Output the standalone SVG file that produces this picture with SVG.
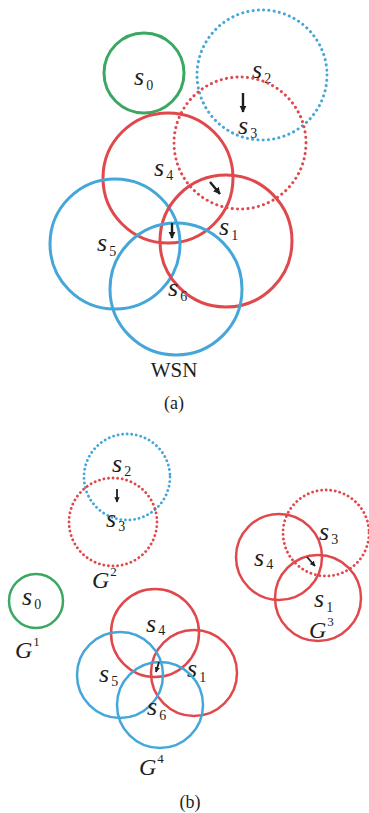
<svg xmlns="http://www.w3.org/2000/svg" width="369" height="813" viewBox="0 0 369 813">
<defs>
<style>
.r{fill:none;stroke:#e0484c}
.b{fill:none;stroke:#45a6d9}
.g{fill:none;stroke:#3aa862}
.a{stroke-width:3}
.bb{stroke-width:2.5}
.d{stroke-dasharray:0.1 5.2;stroke-linecap:round;stroke-width:3}
.db{stroke-dasharray:0.1 4.5;stroke-linecap:round;stroke-width:2.8}
text{font-family:"Liberation Serif","Times New Roman",serif;fill:#1e1e1e}
.s{font-style:italic;font-size:26px}
.sub{font-style:normal;font-size:14px}
.lab{font-size:21px}
.cap{font-size:18px}
.G{font-style:italic;font-size:24px}
.sup{font-style:normal;font-size:13px}
.arr{stroke:#1e1e1e;stroke-width:2.4;fill:none}
.arrs{stroke:#1e1e1e;stroke-width:1.8;fill:none}
</style>
<marker id="ah" viewBox="0 0 10 10" refX="9" refY="5" markerWidth="3" markerHeight="3" orient="auto" markerUnits="strokeWidth">
<path d="M0,0 L10,5 L0,10 Z" fill="#1e1e1e"/>
</marker>
</defs>
<rect width="369" height="813" fill="#ffffff"/>

<!-- (a) WSN -->
<g id="a_s0"><circle class="g a" cx="144" cy="73" r="40"/><text x="134" y="85" class="s">s<tspan class="sub" dx="2" dy="5">0</tspan></text></g>
<g id="a_s2"><circle class="b d" cx="262" cy="75" r="65"/><text x="252" y="78" class="s">s<tspan class="sub" dx="2" dy="5">2</tspan></text></g>
<g id="a_s3"><circle class="r d" cx="240" cy="143" r="66"/><text x="238" y="134" class="s">s<tspan class="sub" dx="2" dy="4">3</tspan></text></g>
<g id="a_s4"><circle class="r a" cx="168" cy="178" r="65"/><text x="154" y="176" class="s">s<tspan class="sub" dx="2" dy="4">4</tspan></text></g>
<g id="a_s5"><circle class="b a" cx="115" cy="244" r="65"/><text x="97" y="251" class="s">s<tspan class="sub" dx="2" dy="5">5</tspan></text></g>
<g id="a_s1"><circle class="r a" cx="226" cy="241" r="66"/><text x="219" y="235" class="s">s<tspan class="sub" dx="2" dy="5">1</tspan></text></g>
<g id="a_s6"><circle class="b a" cx="176" cy="289" r="66"/><text x="168" y="296" class="s">s<tspan class="sub" dx="2" dy="5">6</tspan></text></g>
<text x="174" y="377" class="lab" text-anchor="middle">WSN</text>
<text x="174" y="409" class="cap" text-anchor="middle">(a)</text>

<!-- (b) groups -->
<g id="b_s2"><circle class="b db" cx="127" cy="477" r="43"/><text x="112" y="472" class="s">s<tspan class="sub" dx="2" dy="4">2</tspan></text></g>
<g id="b_s3_G2"><circle class="r db" cx="113" cy="522" r="44"/><text x="106" y="527" class="s">s<tspan class="sub" dx="2" dy="4">3</tspan></text></g>
<text x="92" y="588" class="G">G<tspan class="sup" dx="1" dy="-12">2</tspan></text>

<g id="b_s0"><circle class="g bb" cx="36" cy="601" r="27"/><text x="22" y="605" class="s">s<tspan class="sub" dx="2" dy="4">0</tspan></text></g>
<text x="15" y="658" class="G">G<tspan class="sup" dx="1" dy="-12">1</tspan></text>

<g id="b_s4_G3"><circle class="r bb" cx="279" cy="557" r="43"/><text x="254" y="566" class="s">s<tspan class="sub" dx="2" dy="3">4</tspan></text></g>
<g id="b_s3_G3"><circle class="r db" cx="326" cy="533" r="43"/><text x="319" y="540" class="s">s<tspan class="sub" dx="2" dy="4">3</tspan></text></g>
<g id="b_s1_G3"><circle class="r bb" cx="318" cy="598" r="43"/><text x="314" y="607" class="s">s<tspan class="sub" dx="2" dy="5">1</tspan></text></g>
<text x="309" y="638" class="G">G<tspan class="sup" dx="1" dy="-12">3</tspan></text>

<g id="b_s4_G4"><circle class="r bb" cx="155" cy="633" r="44"/><text x="146" y="632" class="s">s<tspan class="sub" dx="2" dy="3">4</tspan></text></g>
<g id="b_s1_G4"><circle class="r bb" cx="194" cy="673" r="43"/><text x="187" y="677" class="s">s<tspan class="sub" dx="2" dy="5">1</tspan></text></g>
<g id="b_s5_G4"><circle class="b bb" cx="120" cy="675" r="43"/><text x="99" y="682" class="s">s<tspan class="sub" dx="2" dy="4">5</tspan></text></g>
<g id="b_s6_G4"><circle class="b bb" cx="160" cy="705" r="43"/><text x="147" y="715" class="s">s<tspan class="sub" dx="2" dy="5">6</tspan></text></g>
<text x="139" y="775" class="G">G<tspan class="sup" dx="1" dy="-12">4</tspan></text>
<text x="190" y="808" class="cap" text-anchor="middle">(b)</text>

<!-- connectors -->
<g id="connectors">
<line class="arr" x1="243" y1="93" x2="243" y2="112" marker-end="url(#ah)"/>
<line class="arr" x1="210" y1="182" x2="220" y2="194" marker-end="url(#ah)"/>
<line class="arr" x1="172" y1="223" x2="172" y2="238" marker-end="url(#ah)"/>
<line class="arrs" x1="117" y1="489" x2="117" y2="502" marker-end="url(#ah)"/>
<line class="arrs" x1="307" y1="557" x2="315" y2="566" marker-end="url(#ah)"/>
<line class="arrs" x1="159" y1="662" x2="156" y2="672" marker-end="url(#ah)"/>
</g>
</svg>
